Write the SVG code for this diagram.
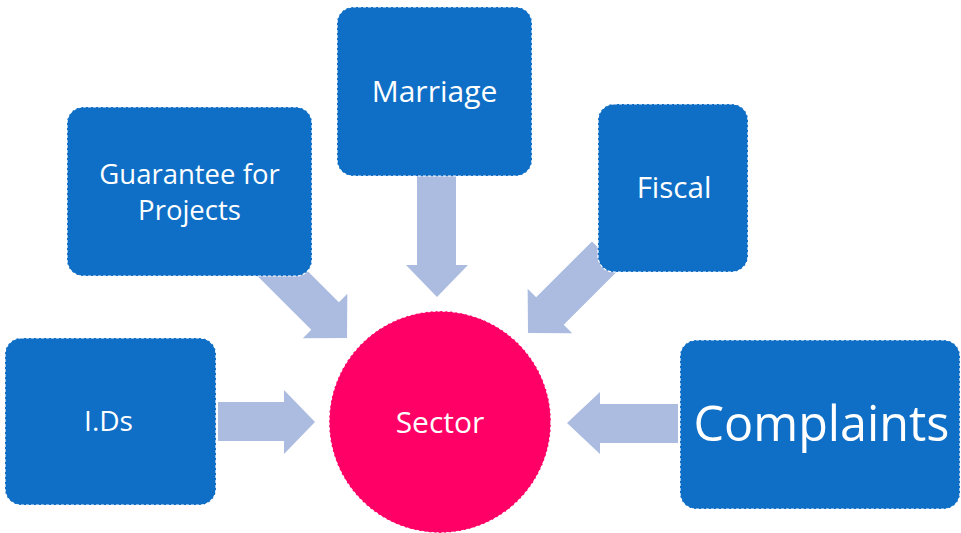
<svg xmlns="http://www.w3.org/2000/svg" width="961" height="533" viewBox="0 0 961 533">
<style>
.box{fill:#0F6FC6;stroke:#ffffff;stroke-width:1.2;stroke-dasharray:3 2}
.arr{fill:#ABBCE0}
.t{font-family:"Open Sans",Lato,"Liberation Sans",sans-serif;fill:#ffffff;text-anchor:middle;dominant-baseline:central}
</style>
<defs>
<polygon id="arrowR" points="-110,-19.5 -31,-19.5 -31,-31.5 0,0 -31,31.5 -31,19.5 -110,19.5"/>
</defs>
<rect width="961" height="533" fill="#ffffff"/>
<g id="connectors">
<polygon class="arr" points="218,402 284,402 284,390 315,422 284,454 284,441 218,441"/>
<polygon class="arr" points="678,404 600,404 600,392 567,423 600,454 600,443 678,443"/>
<polygon class="arr" points="417,170 456,170 456,265 468,265 437,297 406,265 417,265"/>
<use href="#arrowR" class="arr" transform="translate(347,338) rotate(45)"/>
<use href="#arrowR" class="arr" transform="translate(528,333) rotate(135)"/>
</g>
<g id="guarantee">
<rect class="box" x="67" y="107" width="245" height="169" rx="16"/>
<text class="t" x="189.5" y="173" font-size="27.5">Guarantee for</text>
<text class="t" x="189.5" y="209" font-size="27.5">Projects</text>
</g>
<g id="marriage">
<rect class="box" x="337" y="7" width="195" height="169" rx="16"/>
<text class="t" x="434.5" y="90" font-size="30">Marriage</text>
</g>
<g id="fiscal">
<rect class="box" x="598" y="104" width="150" height="168" rx="16"/>
<text class="t" x="674" y="186" font-size="29.5">Fiscal</text>
</g>
<g id="ids">
<rect class="box" x="5" y="338" width="211" height="167" rx="16"/>
<text class="t" x="108.5" y="420" font-size="28">I.Ds</text>
</g>
<g id="complaints">
<rect class="box" x="680" y="340" width="280" height="169" rx="16"/>
<text class="t" x="821.5" y="422" font-size="48.5">Complaints</text>
</g>
<g id="sector">
<circle cx="440" cy="422" r="111" fill="#FF0066" stroke="#ffffff" stroke-width="1.2" stroke-dasharray="3 2"/>
<text class="t" x="440" y="421" font-size="30">Sector</text>
</g>
</svg>
